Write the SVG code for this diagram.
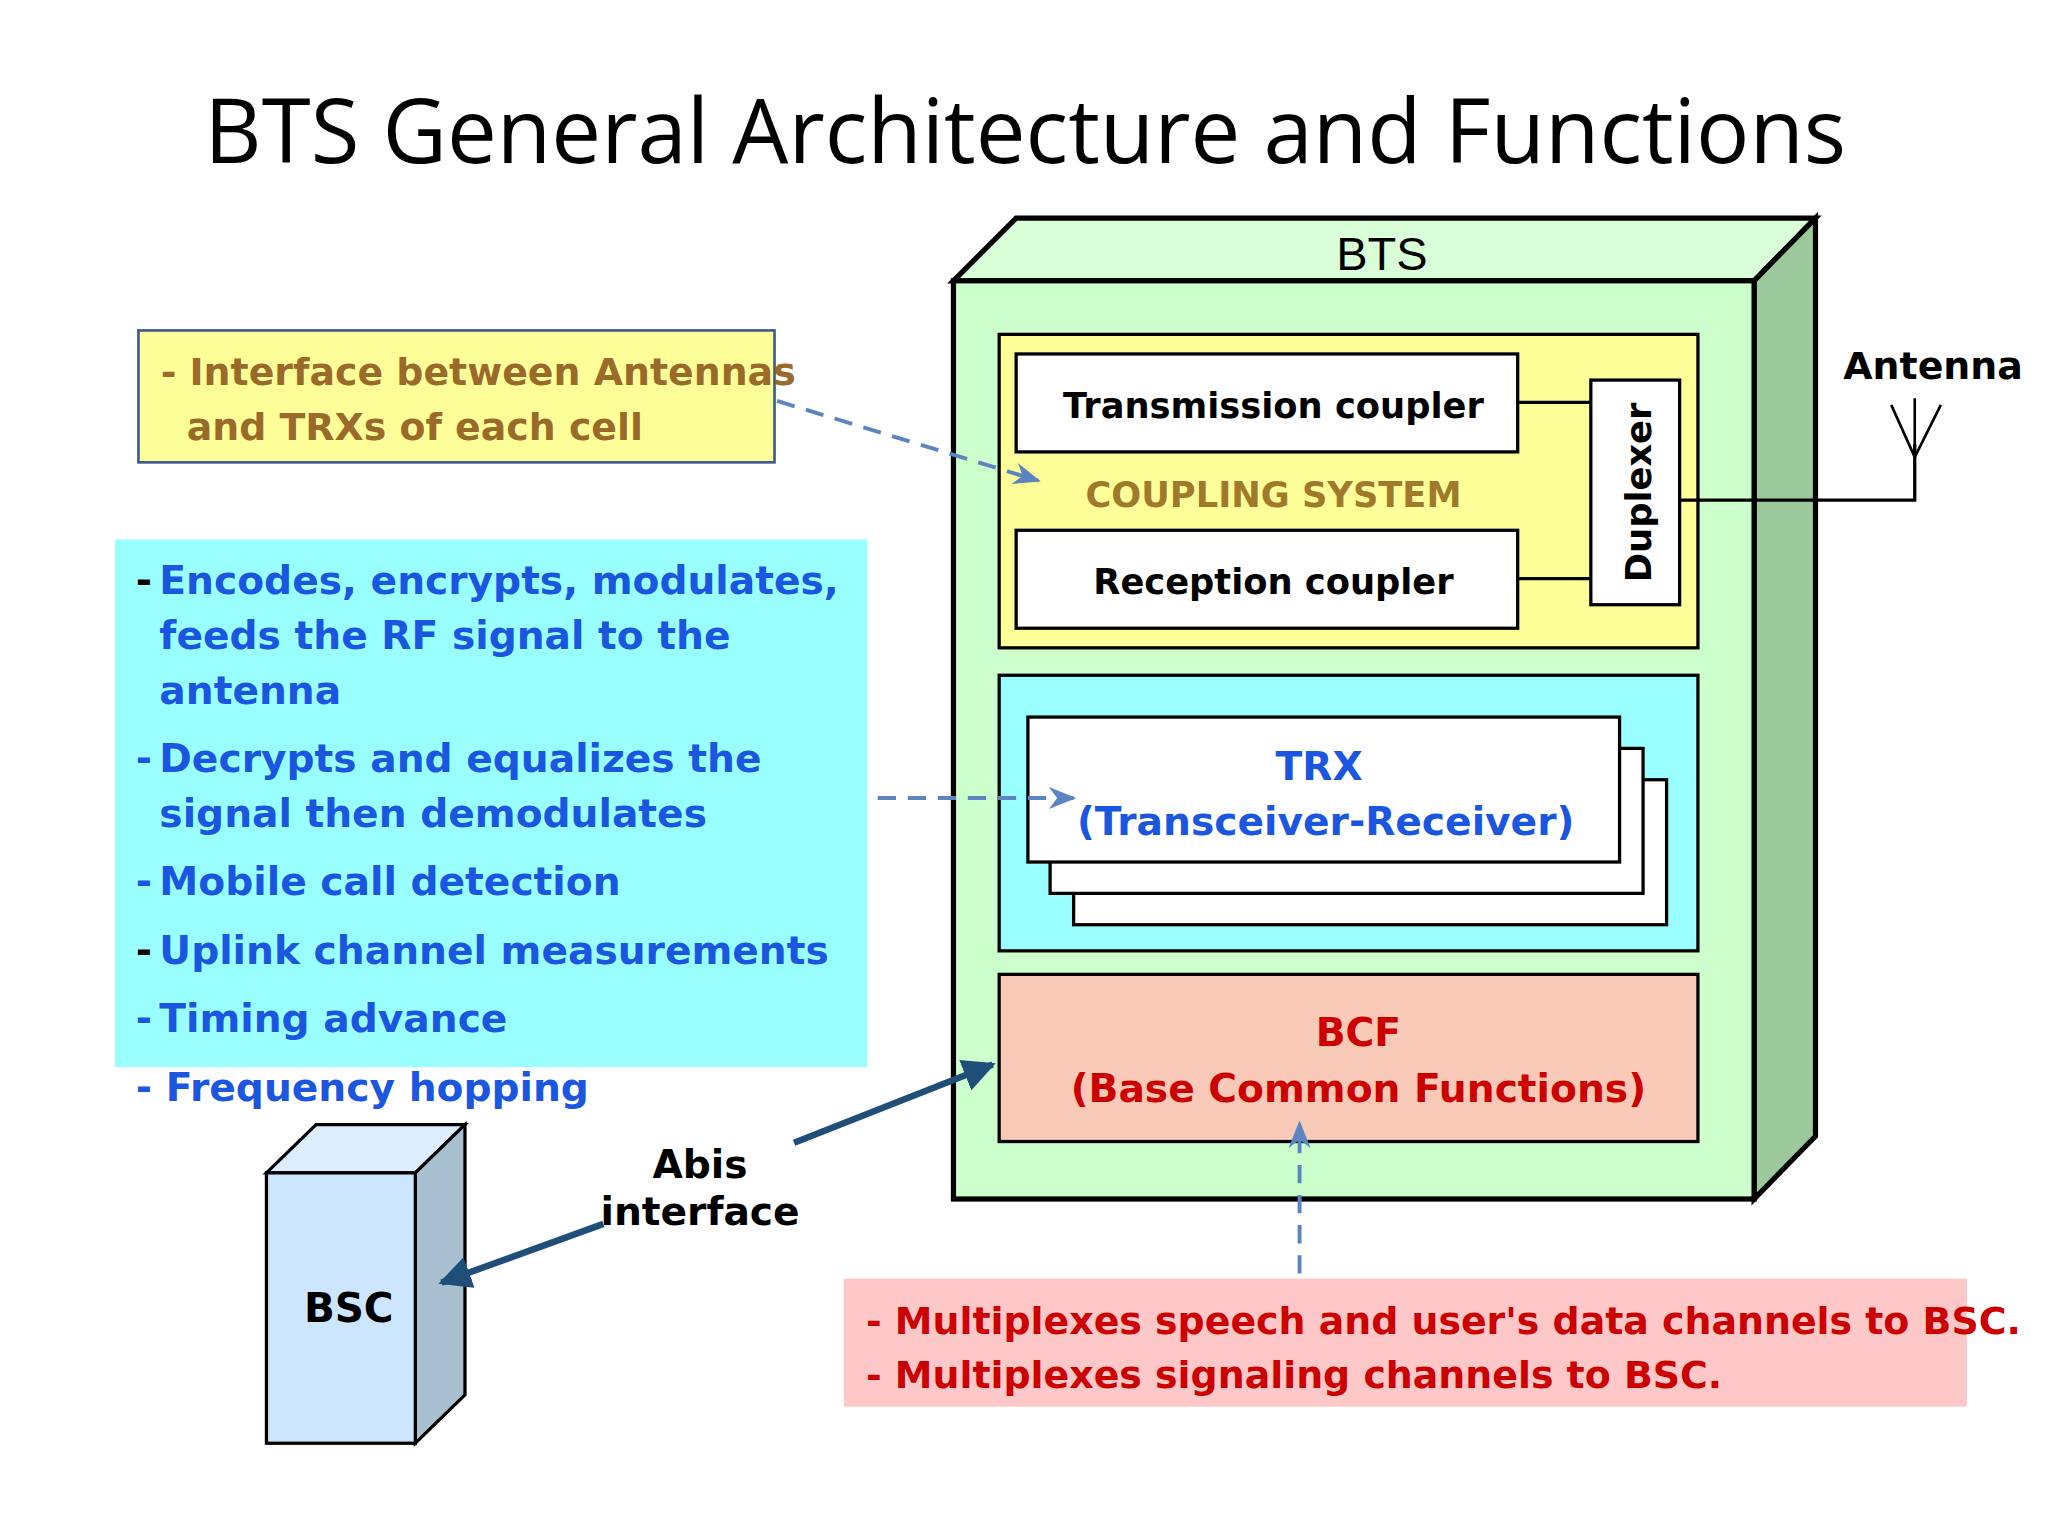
<svg xmlns="http://www.w3.org/2000/svg" width="2048" height="1536" viewBox="0 0 2048 1536">
<defs>
<style>
.b{font-family:"DejaVu Sans","Liberation Sans",sans-serif;font-weight:bold}
.k{stroke:#000;stroke-width:2.5}
.blue{fill:#1a56e0;font-size:30px}
.red{fill:#cc0000;font-size:30px}
</style>
<marker id="ad" viewBox="0 0 10 10" refX="9" refY="5" markerWidth="7" markerHeight="7" orient="auto"><path d="M0,1 L10,5 L0,9 L3,5 z" fill="#5b84c0"/></marker>
<marker id="ab" viewBox="0 0 10 10" refX="9" refY="5" markerWidth="5" markerHeight="5" orient="auto"><path d="M0,0 L10,5 L0,10 z" fill="#1f4e79"/></marker>
</defs>
<rect width="2048" height="1536" fill="#fff"/>
<g transform="scale(1.3061)">
<text x="785" y="125" text-anchor="middle" font-family="Open Sans,sans-serif" font-size="68">BTS General Architecture and Functions</text>
<g id="bts">
<polygon points="730,215 778,167 1390,167 1343,215" fill="#d9ffd9" stroke="#000" stroke-width="4"/>
<polygon points="1343,215 1390,167 1390,870 1343,918" fill="#9cc99c" stroke="#000" stroke-width="4"/>
<rect x="730" y="215" width="613" height="703" fill="#ccffcc" stroke="#000" stroke-width="4"/>
<text x="1058" y="207" text-anchor="middle" font-family="Liberation Sans,sans-serif" font-size="36">BTS</text>
</g>
<g id="coupling">
<rect x="765" y="256" width="535" height="240" fill="#ffff99" class="k" stroke-width="2"/>
<text x="975" y="388" text-anchor="middle" class="b" font-size="27" fill="#a0792a">COUPLING SYSTEM</text>
</g>
<g id="tx"><rect x="778" y="271" width="384" height="75" fill="#fff" class="k"/><text x="975" y="320" text-anchor="middle" class="b" font-size="27">Transmission coupler</text></g>
<g id="rx"><rect x="778" y="406" width="384" height="75" fill="#fff" class="k"/><text x="975" y="455" text-anchor="middle" class="b" font-size="27">Reception coupler</text></g>
<g id="dup"><rect x="1218" y="291" width="68" height="172" fill="#fff" class="k"/><text transform="translate(1264,377) rotate(-90)" text-anchor="middle" class="b" font-size="27">Duplexer</text></g>
<g id="antenna"><text x="1480" y="290" text-anchor="middle" class="b" font-size="29">Antenna</text>
<path d="M1466,350 V305 M1466,350 L1448,310 M1466,350 L1486,310" stroke="#000" stroke-width="2" fill="none"/></g>
<g id="trxarea">
<rect x="765" y="517" width="535" height="211" fill="#99ffff" class="k" stroke-width="2"/>
<rect x="822" y="597" width="454" height="111" fill="#fff" class="k" stroke-width="2"/>
<rect x="804" y="573" width="454" height="111" fill="#fff" class="k" stroke-width="2"/>
<rect x="787" y="549" width="453" height="111" fill="#fff" class="k" stroke-width="2"/>
<text x="1010" y="597" text-anchor="middle" class="b blue" font-size="31">TRX</text>
<text x="1015" y="639" text-anchor="middle" class="b blue" font-size="31">(Transceiver-Receiver)</text>
</g>
<g id="bcf">
<rect x="765" y="746" width="535" height="128" fill="#f9c9b8" class="k" stroke-width="2"/>
<text x="1040" y="801" text-anchor="middle" class="b red" font-size="31">BCF</text>
<text x="1040" y="844" text-anchor="middle" class="b red" font-size="31">(Base Common Functions)</text>
</g>
<g id="note1">
<rect x="106" y="253" width="487" height="101" fill="#ffff99" stroke="#3a5a8a" stroke-width="2"/>
<text class="b" font-size="29" fill="#9a6a2a"><tspan x="123" y="295">- Interface between Antennas</tspan><tspan x="143" y="337">and TRXs of each cell</tspan></text>
</g>
<g id="note2">
<rect x="88" y="413" width="576" height="404" fill="#99ffff"/>
<text class="b blue">
<tspan x="104" y="455" fill="#000">-</tspan><tspan x="122" y="455">Encodes, encrypts, modulates,</tspan>
<tspan x="122" y="497">feeds the RF signal to the</tspan>
<tspan x="122" y="539">antenna</tspan>
<tspan x="104" y="591">-</tspan><tspan x="122" y="591">Decrypts and equalizes the</tspan>
<tspan x="122" y="633">signal then demodulates</tspan>
<tspan x="104" y="685">-</tspan><tspan x="122" y="685">Mobile call detection</tspan>
<tspan x="104" y="738" fill="#000">-</tspan><tspan x="122" y="738">Uplink channel measurements</tspan>
<tspan x="104" y="790">-</tspan><tspan x="122" y="790">Timing advance</tspan>
<tspan x="104" y="843">- Frequency hopping</tspan>
</text>
</g>
<g id="bsc">
<polygon points="204,898 242,861 356,861 318,898" fill="#dceeff" class="k"/>
<polygon points="318,898 356,861 356,1068 318,1105" fill="#a9c0d0" class="k"/>
<rect x="204" y="898" width="114" height="207" fill="#cce6ff" class="k"/>
<text x="267" y="1012" text-anchor="middle" class="b" font-size="31">BSC</text>
</g>
<g id="abis"><text class="b" font-size="30" text-anchor="middle"><tspan x="536" y="902">Abis</tspan><tspan x="536" y="938">interface</tspan></text></g>
<g id="note3">
<rect x="646" y="979" width="860" height="98" fill="#ffc8c8"/>
<text class="b red" font-size="29" style="font-size:29px"><tspan x="663" y="1021">- Multiplexes speech and user's data channels to BSC.</tspan><tspan x="663" y="1063">- Multiplexes signaling channels to BSC.</tspan></text>
</g>
<g id="connectors" fill="none">
<path d="M1162,308 H1218 M1162,443 H1218 M1286,383 H1466 V340" stroke="#000" stroke-width="2.5"/>
<path d="M595,307 L795,368" stroke="#5b84c0" stroke-width="3" stroke-dasharray="14,9" marker-end="url(#ad)"/>
<path d="M672,611 L822,611" stroke="#5b84c0" stroke-width="3" stroke-dasharray="14,9" marker-end="url(#ad)"/>
<path d="M995,975 L995,860" stroke="#5b84c0" stroke-width="3" stroke-dasharray="14,9" marker-end="url(#ad)"/>
<path d="M608,875 L760,815" stroke="#1f4e79" stroke-width="5" marker-end="url(#ab)"/>
<path d="M462,937 L338,982" stroke="#1f4e79" stroke-width="5" marker-end="url(#ab)"/>
</g>
</g>
</svg>
